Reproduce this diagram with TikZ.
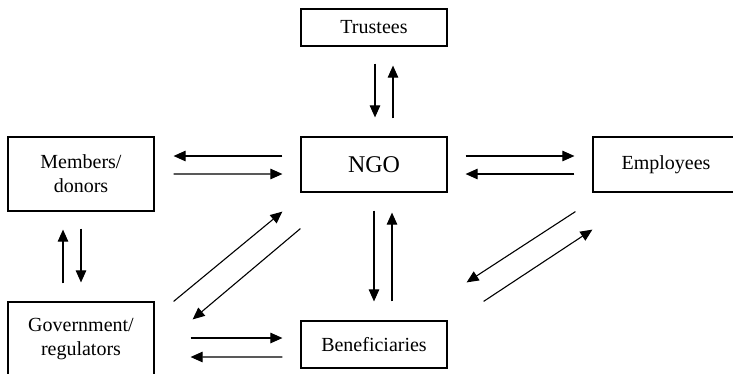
\documentclass[tikz,border=0pt]{standalone}
\usepackage{fontspec}
\setmainfont{Liberation Serif}
\usetikzlibrary{arrows.meta}
\begin{document}
\begin{tikzpicture}[x=1bp,y=-1bp,
  party/.style={draw, line width=1.2bp, minimum width=146bp, inner sep=0pt,
    align=center, font=\fontsize{20bp}{24bp}\selectfont},
  flow/.style={line width=1.1bp, -{Triangle[length=12bp,width=10.5bp]}}]
\useasboundingbox (0,0) rectangle (733,373);
\clip (0,0) rectangle (733,373);

% stakeholders around the organisation
\node[party, minimum height=37bp] (trustees) at (374,27.5) {Trustees};
\node[party, minimum height=55bp, font=\fontsize{24bp}{28bp}\selectfont] (ngo) at (374,164.5) {NGO};
\node[party, minimum height=74bp] (members) at (81,174) {Members/\\donors};
\node[party, minimum height=55bp] (employees) at (666,164.5) {Employees};
\node[party, minimum height=74bp] (gov) at (81,339) {Government/\\regulators};
\node[party, minimum height=47bp] (benef) at (374,344.5) {Beneficiaries};

% two-way flows
\draw[flow] ([shift={(1,17)}]trustees.south) -- ([shift={(1,-19)}]ngo.north);
\draw[flow] ([shift={(19,-18)}]ngo.north) -- ([shift={(19,19)}]trustees.south);

\draw[flow] ([shift={(-18,-8.5)}]ngo.west) -- ([shift={(19,-18)}]members.east);
\draw[flow] ([shift={(19,0)}]members.east) -- ([shift={(-18,9.5)}]ngo.west);

\draw[flow] ([shift={(18,-8.5)}]ngo.east) -- ([shift={(-18,-8.5)}]employees.west);
\draw[flow] ([shift={(-18,9.5)}]employees.west) -- ([shift={(18,9.5)}]ngo.east);

\draw[flow] ([shift={(0,17)}]members.south) -- ([shift={(0,-19)}]gov.north);
\draw[flow] ([shift={(-18,-18)}]gov.north) -- ([shift={(-18,18)}]members.south);

\draw[flow] ([shift={(19,0)}]gov.north east) -- ([shift={(-18,19)}]ngo.south west);
\draw[flow] ([shift={(0,36)}]ngo.south west) -- ([shift={(38,18)}]gov.north east);

\draw[flow] ([shift={(36,-1)}]gov.east) -- ([shift={(-18,-6.5)}]benef.west);
\draw[flow] ([shift={(-18,12.5)}]benef.west) -- ([shift={(36,18)}]gov.east);

\draw[flow] ([shift={(0,18)}]ngo.south) -- ([shift={(0,-19)}]benef.north);
\draw[flow] ([shift={(18,-19)}]benef.north) -- ([shift={(18,20)}]ngo.south);

\draw[flow] ([shift={(-17,19)}]employees.south west) -- ([shift={(19,-38)}]benef.north east);
\draw[flow] ([shift={(36,-19)}]benef.north east) -- ([shift={(0,37)}]employees.south west);
\end{tikzpicture}
\end{document}
